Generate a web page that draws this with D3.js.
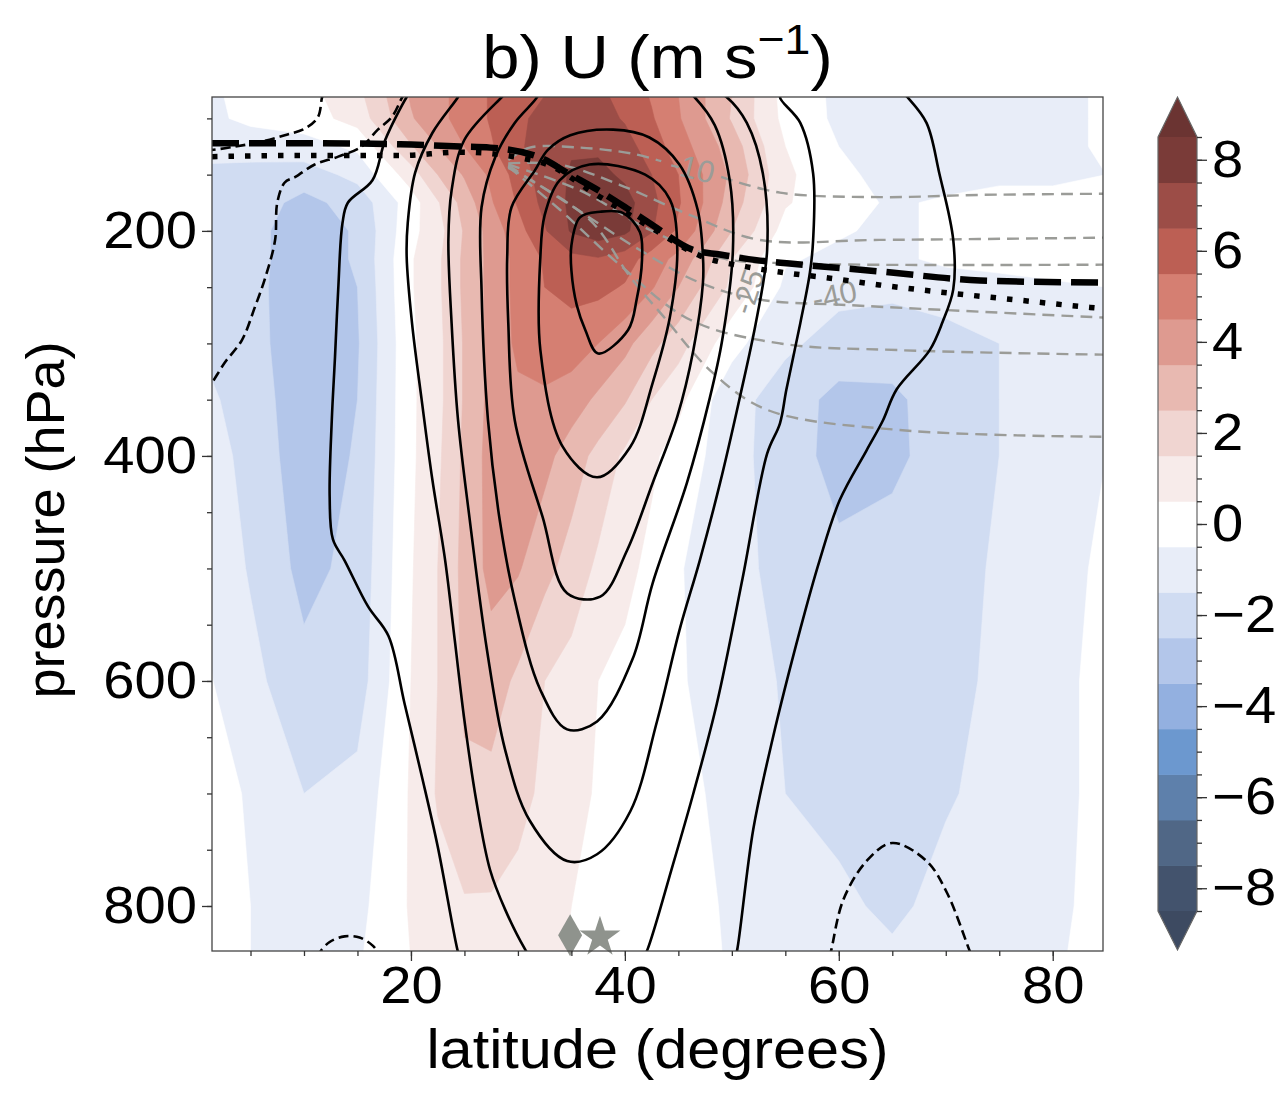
<!DOCTYPE html>
<html>
<head>
<meta charset="utf-8">
<script src="https://cdn.jsdelivr.net/npm/d3@7"></script>
<style>
  body { margin: 0; background: #fff; }
  text { font-family: "Liberation Sans", Arial, Helvetica, sans-serif; }
</style>
</head>
<body>
<svg id="chart" width="1280" height="1099"></svg>
<script>
// grid of the shaded field (U anomaly, m/s), rows = pressure, cols = latitude
var latGrid = [0, 5, 10, 15, 20, 22.5, 25, 27.5, 30, 32.5, 35, 37.5, 40, 42.5, 45, 47.5, 50, 55, 60, 65, 70, 75, 80, 85];
var presGrid = [80, 100, 125, 150, 175, 200, 225, 250, 300, 350, 400, 500, 600, 700, 800, 850];
var uAnom = [
    [-0.8,-0.2, 0.1, 1.2, 3.6, 4.2, 4.9, 5.6, 6.1, 6.5, 6.8, 6.7, 6.2, 5.4, 4.5, 3.5, 2.5, 0.1,-0.7,-1.0,-1.0,-0.9,-0.7,-0.4],
    [-0.8,-0.3, 0.0, 0.9, 3.4, 4.2, 4.9, 5.6, 6.3, 6.8, 7.0, 6.9, 6.4, 5.6, 4.6, 3.5, 2.4, 0.2,-0.7,-1.0,-1.0,-0.9,-0.7,-0.4],
    [-1.0,-1.0,-0.9,-0.3, 2.4, 3.5, 4.5, 5.4, 6.3, 7.1, 7.4, 7.3, 6.9, 6.0, 5.0, 4.0, 3.0, 0.5,-0.5,-1.0,-1.0,-0.9,-0.7,-0.4],
    [-1.8,-1.9,-2.0,-1.2, 1.0, 2.5, 3.6, 4.7, 5.9, 7.0, 7.6, 7.8, 7.3, 6.5, 5.5, 4.4, 3.3, 0.7,-0.3,-0.8,-0.8,-0.7,-0.7,-0.5],
    [-1.9,-2.0,-2.8,-2.1, 0.0, 1.4, 2.9, 4.4, 5.6, 6.8, 7.7, 8.2, 7.9, 6.8, 5.6, 4.4, 3.0, 0.6,-0.2,-0.6,-0.4,-0.2,-0.2,-0.2],
    [-1.8,-2.2,-3.0,-2.4, 0.2, 1.1, 2.6, 3.9, 5.1, 6.4, 7.6, 8.1, 7.7, 6.6, 5.3, 4.0, 2.5, 0.1,-0.4,-0.7,-0.3,-0.2,-0.2,-0.2],
    [-1.8,-2.2,-3.0,-2.4, 0.4, 1.3, 2.7, 3.8, 4.8, 5.6, 6.2, 6.4, 6.0, 5.0, 4.2, 2.9, 1.5,-0.4,-0.7,-0.7,-0.3,-0.2,-0.2,-0.3],
    [-1.7,-2.2,-3.1,-2.5, 0.4, 1.3, 2.7, 3.8, 4.8, 5.5, 5.8, 5.8, 5.4, 4.6, 3.5, 2.3, 1.3,-0.7,-1.2,-1.3,-1.0,-0.8,-0.6,-0.5],
    [-1.5,-2.1,-3.2,-2.6, 0.3, 1.2, 2.6, 3.8, 4.7, 5.1, 5.0, 4.5, 3.8, 2.8, 1.9, 0.9,-0.2,-1.3,-1.9,-2.0,-1.9,-1.5,-1.1,-0.9],
    [-1.2,-1.9,-3.2,-2.5, 0.3, 1.2, 2.6, 3.8, 4.3, 4.3, 4.0, 3.3, 2.6, 1.5, 0.8,-0.3,-1.1,-2.0,-2.8,-2.7,-2.0,-1.5,-1.1,-0.9],
    [-0.9,-1.8,-3.1,-2.4, 0.3, 1.3, 2.7, 3.9, 4.1, 3.8, 3.0, 2.2, 1.3, 0.7, 0.0,-0.5,-1.1,-2.1,-2.8,-2.7,-2.1,-1.5,-1.0,-0.5],
    [-0.5,-1.6,-2.8,-2.2, 0.4, 1.5, 2.8, 3.8, 3.6, 2.8, 2.1, 1.3, 0.8, 0.2,-0.4,-0.9,-1.2,-1.8,-2.3,-2.1,-1.8,-1.4,-0.9,-0.3],
    [-0.2,-1.2,-2.2,-2.0, 0.5, 1.5, 2.7, 3.0, 2.3, 1.5, 1.1, 0.5, 0.2,-0.1,-0.4,-0.7,-1.0,-1.6,-2.1,-2.2,-1.8,-1.3,-0.8,-0.2],
    [ 0.0,-0.6,-1.5,-1.2, 0.6, 1.6, 2.3, 2.2, 1.8, 1.3, 0.8, 0.4, 0.2, 0.0,-0.2,-0.5,-0.8,-1.5,-1.8,-1.9,-1.6,-1.2,-0.8,-0.2],
    [ 0.2,-0.5,-1.1,-0.8, 0.6, 1.1, 1.4, 1.4, 1.2, 0.9, 0.5, 0.3, 0.1, 0.0,-0.2,-0.4,-0.6,-1.0,-1.3,-1.7,-1.2,-0.9,-0.7,-0.2],
    [ 0.2,-0.5,-0.9,-0.6, 0.5, 0.9, 1.2, 1.2, 1.0, 0.8, 0.4, 0.3, 0.1, 0.0,-0.1,-0.3,-0.6,-0.9,-1.1,-1.3,-1.1,-0.9,-0.6,-0.2]
];

var fillLevels = [-8.5, -7.5, -6.5, -5.5, -4.5, -3.5, -2.5, -1.5, -0.5, 0.5, 1.5, 2.5, 3.5, 4.5, 5.5, 6.5, 7.5, 8.5];
var fillColors = ['#3d4a61', '#43536d', '#506786', '#5e80ab', '#6c98cf', '#93b0e0', '#b3c6ea', '#d0dcf2', '#e8edf8',
                  '#ffffff',
                  '#f7ebea', '#f0d5d1', '#e8b9b1', '#de9a90', '#d57f72', '#bc5f54', '#9c4d47', '#7a3b38', '#6b3432'];
var cbarTicks = [-8, -6, -4, -2, 0, 2, 4, 6, 8];

// climatological U contours, [lat, hPa]
var uSolid = [
    [[19.9,77],[19.6,81],[17.6,119],[16.4,155],[14.1,175],[13.6,193],[13.2,252],[12.9,312],[12.6,368],[12.4,436],[12.7,474],[13.8,493],[16.0,534],[17.9,560],[19.4,620],[21.0,684],[22.5,747],[24.4,841],[24.6,846]],
    [[24.6,77],[24.4,81],[22.0,113],[20.4,148],[19.7,193],[19.6,223],[20.1,282],[21.0,350],[22.0,421],[23.2,493],[24.1,564],[25.0,635],[26.1,706],[27.4,768],[28.8,803],[30.7,839],[31.2,846]],
    [[28.9,77],[28.5,81],[25.0,119],[23.8,164],[23.5,208],[23.8,282],[24.4,368],[25.5,457],[27.1,572],[28.8,661],[31.1,724],[34.6,760],[37.4,754],[40.5,716],[43.0,636],[45.1,555],[47.0,493],[48.9,424],[50.7,350],[52.3,279],[53.3,217],[52.9,149],[51.4,104],[49.5,81],[48.7,77]],
    [[31.9,77],[31.8,81],[29.7,104],[27.9,134],[26.6,179],[26.6,252],[27.2,368],[28.3,457],[29.7,528],[32.1,608],[34.6,643],[37.4,636],[40.7,581],[42.6,513],[45.8,424],[47.9,350],[49.1,297],[50.1,217],[49.8,155],[48.4,106],[46.5,81],[46.0,77]],
    [[55.0,77],[54.5,81],[56.4,104],[57.6,149],[57.6,208],[57.3,237],[56.4,282],[55.1,341],[54.5,371],[53.3,398],[51.0,509],[48.6,620],[46.4,700],[44.5,763],[42.1,839],[41.7,846]],
    [[66.0,77],[66.4,81],[68.2,104],[69.4,149],[70.7,208],[70.7,252],[69.7,281],[68.5,306],[65.4,341],[64.1,369],[62.6,395],[60.1,439],[58.2,493],[56.4,554],[53.8,652],[52.0,732],[50.5,839],[50.3,846]]
];
var uLoops = [
    [[31.6,146],[29.4,179],[29.0,223],[29.1,282],[29.7,368],[32.3,454],[34.6,522],[37.7,525],[40.2,484],[42.6,424],[44.9,365],[46.4,306],[47.3,246],[47.3,223],[46.8,181],[45.1,141],[42.3,117],[38.9,110],[34.9,115],[32.8,128]],
    [[32.1,223],[32.1,306],[34.2,392],[37.4,419],[40.5,392],[42.6,335],[44.2,277],[44.9,217],[44.2,172],[41.9,150],[36.7,141],[33.9,155],[32.5,186]],
    [[35.8,188],[37.7,183],[39.8,184],[41.4,201],[41.6,226],[41.1,261],[40.3,288],[37.5,309],[36.3,288],[35.5,266],[35.0,235],[35.0,213]]
];
var uDashed = [
    [[11.9,77],[11.7,81],[11.3,99],[10.1,109],[8.2,115],[5.9,121],[3.6,125],[1.4,128],[0.8,128]],
    [[19.5,77],[19.2,81],[18.2,99],[16.9,110],[15.4,125],[13.2,134],[11.0,141],[9.2,152],[8.2,157],[7.5,175],[7.3,208],[6.4,241],[5.4,268],[4.2,297],[2.6,317],[1.4,335],[1.0,340]],
    [[11.3,846],[11.5,841],[12.4,832],[13.8,827],[15.2,828],[16.4,835],[16.9,841],[17.1,846]],
    [[59.1,846],[59.3,839],[60.4,795],[62.6,760],[65.0,744],[68.2,760],[70.1,788],[72.2,839],[72.5,846]]
];

// tropopause lines
var tropDashed = [[1.4,122],[9.6,122],[19.0,123],[24.6,125],[27.4,126],[32.1,135],[34.9,150],[37.7,165],[40.2,180],[42.6,195],[46.4,217],[48.9,221],[52.3,226],[55.4,229],[63.8,236],[73.2,244],[84.7,246]];
var tropDotted = [[1.4,134],[9.6,133],[19.0,133],[24.6,130],[32.1,139],[37.7,170],[42.6,198],[47.0,222],[51.4,232],[54.8,237],[59.2,242],[63.8,248],[70.1,255],[76.3,261],[83.5,268],[84.7,269]];

// grey dashed contours and their labels
var greyLines = [
    [[29.1,137],[31.1,126],[35.8,126],[40.5,131],[43.4,138]],
    [[49.0,152],[54.5,166],[63.8,170],[73.2,168],[84.7,167]],
    [[29.1,140],[33.9,141],[39.5,159],[46.1,186],[52.6,208],[63.8,208],[84.7,206]],
    [[29.1,141],[35.8,164],[42.3,199],[48.9,224],[56.4,229],[84.7,230]],
    [[29.1,142],[34.9,177],[41.4,217],[47.0,246],[52.6,261],[61.0,266],[84.7,277]],
    [[29.1,143],[33.9,181],[39.5,230],[46.1,279],[54.5,300],[65.7,306],[84.7,310]],
    [[29.1,144],[36.7,190],[40.5,241],[43.6,276],[48.2,326],[53.3,359],[65.7,377],[84.7,383]]
];
var greyLabels = [
    { text: '-10', lat: 46.3, p: 144, angle: 14 },
    { text: '-25', lat: 51.5, p: 254, angle: -72 },
    { text: '-40', lat: 59.6, p: 257, angle: -12 }
];

var markerLats = [34.88, 37.67];
var markerPres = 826;

(function () {
    var svg = d3.select('#chart');
    var left = 212, right = 1103, top = 97, bottom = 951;
    var stretch = 1.08;   // glyphs in the original are a little wider than Liberation Sans

    var x = d3.scaleLinear().domain([1.4, 84.7]).range([left, right]);
    var y = d3.scaleLinear().domain([81, 840]).range([top, bottom]);

    svg.append('defs').append('clipPath').attr('id', 'plotclip')
        .append('rect')
        .attr('x', left).attr('y', top)
        .attr('width', right - left).attr('height', bottom - top);

    var plot = svg.append('g').attr('clip-path', 'url(#plotclip)');

    // filled contours
    var nx = latGrid.length, ny = presGrid.length;
    var flat = [];
    uAnom.forEach(function (row) { flat = flat.concat(row); });

    var gi = d3.scaleLinear().domain(d3.range(nx)).range(latGrid);
    var gj = d3.scaleLinear().domain(d3.range(ny)).range(presGrid);
    var proj = d3.geoTransform({
        point: function (px, py) {
            this.stream.point(x(gi(px - 0.5)), y(gj(py - 0.5)));
        }
    });
    var path = d3.geoPath(proj);

    var bands = d3.contours().size([nx, ny]).thresholds(fillLevels)(flat);

    plot.append('rect')
        .attr('x', left).attr('y', top)
        .attr('width', right - left).attr('height', bottom - top)
        .attr('fill', fillColors[0]);

    plot.selectAll('path.band')
        .data(bands)
        .enter().append('path')
        .attr('class', 'band')
        .attr('d', path)
        .attr('fill', function (d, i) { return fillColors[i + 1]; })
        .attr('stroke', function (d, i) { return fillColors[i + 1]; })
        .attr('stroke-width', 0.6);

    var line = d3.line()
        .x(function (d) { return x(d[0]); })
        .y(function (d) { return y(d[1]); })
        .curve(d3.curveCatmullRom.alpha(0.5));
    var loop = d3.line()
        .x(function (d) { return x(d[0]); })
        .y(function (d) { return y(d[1]); })
        .curve(d3.curveCatmullRomClosed.alpha(0.5));

    // grey contours
    plot.selectAll('path.grey')
        .data(greyLines)
        .enter().append('path')
        .attr('class', 'grey')
        .attr('d', line)
        .attr('fill', 'none')
        .attr('stroke', '#9b9c98')
        .attr('stroke-width', 2.4)
        .attr('stroke-dasharray', '12,7');

    plot.selectAll('text.glabel')
        .data(greyLabels)
        .enter().append('text')
        .attr('class', 'glabel')
        .attr('transform', function (d) {
            return 'translate(' + x(d.lat) + ',' + y(d.p) + ') rotate(' + d.angle + ')';
        })
        .attr('text-anchor', 'middle')
        .attr('dy', '0.35em')
        .attr('font-size', 31)
        .attr('fill', '#9b9c98')
        .text(function (d) { return d.text; });

    // black contours
    plot.selectAll('path.solid')
        .data(uSolid)
        .enter().append('path')
        .attr('class', 'solid')
        .attr('d', line)
        .attr('fill', 'none')
        .attr('stroke', '#000')
        .attr('stroke-width', 2.6);

    plot.selectAll('path.loop')
        .data(uLoops)
        .enter().append('path')
        .attr('class', 'loop')
        .attr('d', loop)
        .attr('fill', 'none')
        .attr('stroke', '#000')
        .attr('stroke-width', 2.6);

    plot.selectAll('path.neg')
        .data(uDashed)
        .enter().append('path')
        .attr('class', 'neg')
        .attr('d', line)
        .attr('fill', 'none')
        .attr('stroke', '#000')
        .attr('stroke-width', 2.6)
        .attr('stroke-dasharray', '10,5');

    // tropopause
    var straight = d3.line()
        .x(function (d) { return x(d[0]); })
        .y(function (d) { return y(d[1]); })
        .curve(d3.curveMonotoneX);

    plot.append('path')
        .attr('d', straight(tropDashed))
        .attr('fill', 'none')
        .attr('stroke', '#000')
        .attr('stroke-width', 6.5)
        .attr('stroke-dasharray', '27,10');

    plot.append('path')
        .attr('d', straight(tropDotted))
        .attr('fill', 'none')
        .attr('stroke', '#000')
        .attr('stroke-width', 5.5)
        .attr('stroke-dasharray', '5.5,11');

    // markers
    svg.append('path')
        .attr('d', 'M0,-21 L12,0 L0,21 L-12,0 Z')
        .attr('transform', 'translate(' + x(markerLats[0]) + ',' + y(markerPres) + ')')
        .attr('fill', '#8f938d');
    svg.append('path')
        .attr('d', d3.symbol().type(d3.symbolStar).size(520)())
        .attr('transform', 'translate(' + x(markerLats[1]) + ',' + (y(markerPres) + 2) + ')')
        .attr('fill', '#8f938d');

    // frame
    svg.append('rect')
        .attr('x', left).attr('y', top)
        .attr('width', right - left).attr('height', bottom - top)
        .attr('fill', 'none')
        .attr('stroke', '#444')
        .attr('stroke-width', 1.3);

    // axes
    function styleAxis(g, size) {
        g.select('.domain').remove();
        g.selectAll('.tick line').attr('stroke', '#333').attr('stroke-width', 1.3);
        g.selectAll('.tick text').attr('font-size', size).attr('fill', '#000')
            .attr('transform', 'scale(' + stretch + ',1)')
            .attr('font-family', '"Liberation Sans", Arial, Helvetica, sans-serif');
    }

    svg.append('g')
        .attr('transform', 'translate(0,' + bottom + ')')
        .call(d3.axisBottom(x).tickValues(d3.range(5, 85, 5)).tickSize(5).tickFormat(''))
        .call(styleAxis, 52);
    svg.append('g')
        .attr('transform', 'translate(0,' + bottom + ')')
        .call(d3.axisBottom(x).tickValues([20, 40, 60, 80]).tickSize(10).tickPadding(5))
        .call(styleAxis, 52);

    svg.append('g')
        .attr('transform', 'translate(' + left + ',0)')
        .call(d3.axisLeft(y).tickValues(d3.range(100, 850, 50)).tickSize(5).tickFormat(''))
        .call(styleAxis, 52);
    svg.append('g')
        .attr('transform', 'translate(' + left + ',0)')
        .call(d3.axisLeft(y).tickValues([200, 400, 600, 800]).tickSize(10).tickPadding(4))
        .call(styleAxis, 52);

    svg.append('text')
        .attr('transform', 'translate(' + (left + right) / 2 + ',1068) scale(' + stretch + ',1)')
        .attr('text-anchor', 'middle')
        .attr('font-size', 55)
        .text('latitude (degrees)');

    svg.append('text')
        .attr('transform', 'translate(64,' + 520 + ') rotate(-90)')
        .attr('text-anchor', 'middle')
        .attr('font-size', 54)
        .text('pressure (hPa)');

    var title = svg.append('text')
        .attr('transform', 'translate(' + (left + right) / 2 + ',78) scale(' + stretch + ',1)')
        .attr('text-anchor', 'middle')
        .attr('font-size', 62);
    title.append('tspan').text('b) U (m s');
    title.append('tspan').attr('font-size', 43).attr('dy', -24).text('\u22121');
    title.append('tspan').attr('dy', 24).text(')');

    // colorbar
    var cbL = 1158, cbR = 1197;
    var cy = d3.scaleLinear().domain([-8.5, 8.5]).range([911, 137]);
    var cb = svg.append('g');

    cb.selectAll('rect')
        .data(d3.range(fillLevels.length - 1))
        .enter().append('rect')
        .attr('x', cbL)
        .attr('y', function (i) { return cy(fillLevels[i + 1]); })
        .attr('width', cbR - cbL)
        .attr('height', function (i) { return cy(fillLevels[i]) - cy(fillLevels[i + 1]) + 0.5; })
        .attr('fill', function (i) { return fillColors[i + 1]; });

    cb.append('path')
        .attr('d', 'M' + cbL + ',' + cy(8.5) + 'L' + (cbL + cbR) / 2 + ',97L' + cbR + ',' + cy(8.5) + 'Z')
        .attr('fill', fillColors[fillColors.length - 1]);
    cb.append('path')
        .attr('d', 'M' + cbL + ',' + cy(-8.5) + 'L' + (cbL + cbR) / 2 + ',950L' + cbR + ',' + cy(-8.5) + 'Z')
        .attr('fill', fillColors[0]);
    cb.append('path')
        .attr('d', 'M' + cbL + ',' + cy(8.5) + 'L' + (cbL + cbR) / 2 + ',97L' + cbR + ',' + cy(8.5) +
              'L' + cbR + ',' + cy(-8.5) + 'L' + (cbL + cbR) / 2 + ',950L' + cbL + ',' + cy(-8.5) + 'Z')
        .attr('fill', 'none')
        .attr('stroke', '#666')
        .attr('stroke-width', 1.2);

    svg.append('g')
        .attr('transform', 'translate(' + cbR + ',0)')
        .call(d3.axisRight(cy).tickValues(d3.range(-8.5, 9, 0.5)).tickSize(5).tickFormat(''))
        .call(styleAxis, 52);
    svg.append('g')
        .attr('transform', 'translate(' + cbR + ',0)')
        .call(d3.axisRight(cy).tickValues(cbarTicks).tickSize(10).tickPadding(4))
        .call(styleAxis, 52);
}());
</script>
</body>
</html>
